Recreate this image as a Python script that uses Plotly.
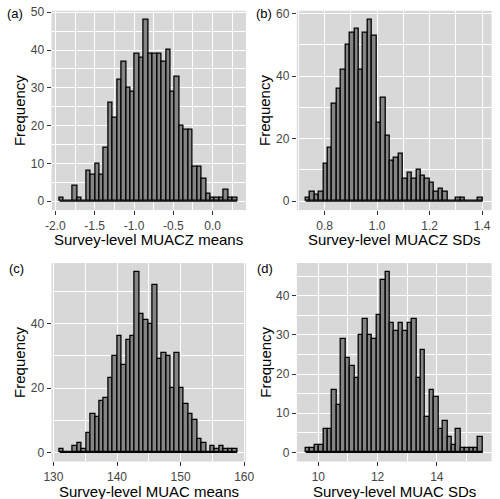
import plotly.graph_objects as go

# ---------------- data ----------------
# (a) Survey-level MUACZ means: 40 bins
muacz_mean_counts = [1, 0, 0, 4, 1, 0, 8, 7, 10, 7, 14, 26, 22, 32, 37, 30, 29, 39, 38, 48,
                     39, 39, 39, 37, 40, 29, 33, 20, 19, 19, 9, 9, 6, 2, 1, 1, 1, 3, 1, 1]
muacz_mean_bin_start = -1.947
muacz_mean_bin_width = 0.05648
muacz_mean_xticks = [-2.0, -1.5, -1.0, -0.5, 0.0]
muacz_mean_xticklabels = ["-2.0", "-1.5", "-1.0", "-0.5", "0.0"]
muacz_mean_yticks = [0, 10, 20, 30, 40, 50]

# (b) Survey-level MUACZ SDs
muacz_sd_counts = [1, 3, 2, 3, 12, 17, 31, 36, 42, 50, 54, 55, 42, 54, 58, 53, 25, 33, 21, 13,
                   14, 15, 7, 9, 7, 10, 8, 7, 6, 3, 4, 3, 0, 0, 1, 1, 0, 0, 0, 1]
muacz_sd_bin_start = 0.7277
muacz_sd_bin_width = 0.016875
muacz_sd_xticks = [0.8, 1.0, 1.2, 1.4]
muacz_sd_xticklabels = ["0.8", "1.0", "1.2", "1.4"]
muacz_sd_yticks = [0, 20, 40, 60]

# (c) Survey-level MUAC means
muac_mean_counts = [1, 0, 0, 2, 3, 1, 6, 12, 11, 16, 17, 23, 30, 36, 27, 35, 36, 56, 43, 41,
                    40, 52, 29, 31, 30, 20, 31, 20, 15, 12, 10, 4, 3, 0, 2, 1, 2, 1, 1, 1]
muac_mean_bin_start = 130.96
muac_mean_bin_width = 0.6983
muac_mean_xticks = [130, 140, 150, 160]
muac_mean_xticklabels = ["130", "140", "150", "160"]
muac_mean_yticks = [0, 20, 40]

# (d) Survey-level MUAC SDs
muac_sd_counts = [1, 1, 2, 2, 6, 6, 16, 12, 29, 24, 22, 19, 30, 34, 30, 29, 35, 44, 46, 33,
                  31, 33, 31, 33, 34, 19, 26, 9, 16, 14, 6, 8, 4, 2, 6, 1, 1, 1, 1, 4]
muac_sd_bin_start = 9.574
muac_sd_bin_width = 0.1494
muac_sd_xticks = [10, 12, 14]
muac_sd_xticklabels = ["10", "12", "14"]
muac_sd_yticks = [0, 10, 20, 30, 40]

panel_labels = ["(a)", "(b)", "(c)", "(d)"]
x_titles = ["Survey-level MUACZ means", "Survey-level MUACZ SDs",
            "Survey-level MUAC means", "Survey-level MUAC SDs"]
y_title = "Frequency"

# ---------------- styling / layout ----------------
W, H = 500, 499
FONT = "Arial, Liberation Sans, Helvetica, sans-serif"
PANEL_BG = "#D8D8D8"
BAR_FILL = "#858585"
TICK_COL = "#444444"

# panel pixel boxes (left, right, top, bottom) and left padding fraction of the bins span
boxes = [(45.0, 245.9, 5.8, 207.2), (298.4, 499.6, 5.8, 207.2),
         (45.0, 245.9, 260.7, 461.1), (298.4, 499.6, 260.7, 461.1)]
left_pad = [0.045, 0.05, 0.045, 0.05]

panels = [
    (muacz_mean_counts, muacz_mean_bin_start, muacz_mean_bin_width,
     muacz_mean_xticks, muacz_mean_xticklabels, muacz_mean_yticks),
    (muacz_sd_counts, muacz_sd_bin_start, muacz_sd_bin_width,
     muacz_sd_xticks, muacz_sd_xticklabels, muacz_sd_yticks),
    (muac_mean_counts, muac_mean_bin_start, muac_mean_bin_width,
     muac_mean_xticks, muac_mean_xticklabels, muac_mean_yticks),
    (muac_sd_counts, muac_sd_bin_start, muac_sd_bin_width,
     muac_sd_xticks, muac_sd_xticklabels, muac_sd_yticks),
]

label_pos = [(7.5, 9), (264.5, 9), (8.5, 266), (265, 266.5)]
ytitle_x = [12, 265, 12, 266]

fig = go.Figure()
annotations = []


def mids(ticks):
    step = ticks[1] - ticks[0]
    return [t - step / 2 for t in ticks] + [ticks[-1] + step / 2]


for i, (counts, start, width, xt, xtl, yt) in enumerate(panels):
    n = len(counts)
    centers = [start + width * (k + 0.5) for k in range(n)]
    end = start + width * n
    span = end - start
    l, r, t, b = boxes[i]
    xr = [start - left_pad[i] * span, end + 0.05 * span]
    ymax = max(counts)
    yr = [-0.05 * ymax, 1.05 * ymax]
    suffix = "" if i == 0 else str(i + 1)
    xa, ya = "x" + suffix, "y" + suffix

    fig.add_trace(go.Bar(
        x=centers, y=counts, width=width, xaxis=xa, yaxis=ya,
        marker=dict(color=BAR_FILL, line=dict(color="black", width=1.3)),
        showlegend=False, hoverinfo="x+y"))
    # baseline of the bins (zero-count bins drawn as flat outline)
    fig.add_trace(go.Scatter(
        x=[start, end], y=[0, 0], xaxis=xa, yaxis=ya, mode="lines",
        line=dict(color="black", width=1.3), showlegend=False, hoverinfo="skip"))

    common = dict(showgrid=True, gridcolor="white", gridwidth=1.3,
                  zeroline=False, showline=False, ticks="outside", ticklen=4,
                  tickwidth=1, tickcolor="#333333",
                  tickfont=dict(family=FONT, size=12, color=TICK_COL))
    fig.update_layout(**{
        ("xaxis" + suffix): dict(
            domain=[l / W, r / W], range=xr, anchor=ya,
            tickmode="array", tickvals=xt, ticktext=xtl,
            minor=dict(tickmode="array", tickvals=mids(xt), showgrid=True,
                       gridcolor="white", gridwidth=0.6, ticks=""),
            **common),
        ("yaxis" + suffix): dict(
            domain=[1 - b / H, 1 - t / H], range=yr, anchor=xa,
            tickmode="array", tickvals=yt, ticktext=[str(v) for v in yt],
            minor=dict(tickmode="array", tickvals=mids(yt), showgrid=True,
                       gridcolor="white", gridwidth=0.6, ticks=""),
            **common),
    })

    # x-axis title
    annotations.append(dict(
        text=x_titles[i], x=(l + r) / 2 / W, y=1 - (b + 30) / H,
        xref="paper", yref="paper", showarrow=False,
        xanchor="center", yanchor="middle",
        font=dict(family=FONT, size=15, color="black")))
    # y-axis title
    annotations.append(dict(
        text=y_title, x=ytitle_x[i] / W, y=1 - (t + b) / 2 / H,
        xref="paper", yref="paper", showarrow=False, textangle=-90,
        xanchor="center", yanchor="middle",
        font=dict(family=FONT, size=15, color="black")))
    # panel label
    lx, ly = label_pos[i]
    annotations.append(dict(
        text=panel_labels[i], x=lx / W, y=1 - ly / H,
        xref="paper", yref="paper", showarrow=False,
        xanchor="center", yanchor="middle",
        font=dict(family=FONT, size=13, color="black")))

fig.update_layout(
    width=W, height=H, margin=dict(l=0, r=0, t=0, b=0),
    paper_bgcolor="white", plot_bgcolor=PANEL_BG,
    bargap=0, barmode="overlay", showlegend=False,
    annotations=annotations,
    font=dict(family=FONT),
)

fig.write_html("out.html",
               config={"displayModeBar": False},
               post_script="document.body.style.margin='0';"
                           "document.body.style.overflow='hidden';")
